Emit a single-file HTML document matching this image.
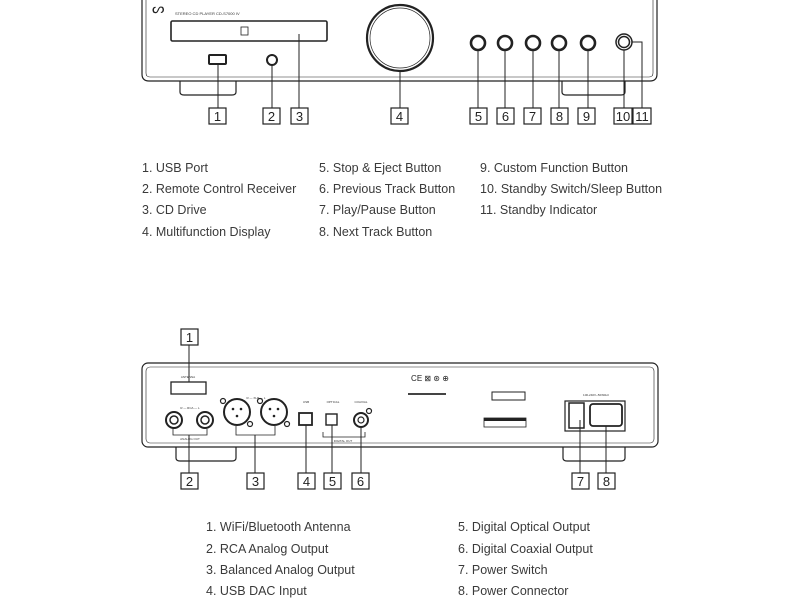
<!DOCTYPE html>
<html><head><meta charset="utf-8"><style>
html,body{margin:0;padding:0;background:#fff;}
svg{display:block;}
text{font-family:"Liberation Sans",sans-serif;}
.l{font-size:12.5px;fill:#3a3a3a;}
.n{font-size:13px;fill:#222;text-anchor:middle;}
.s{font-size:3px;fill:#333;text-anchor:middle;}
</style></head><body>
<svg width="800" height="600" viewBox="0 0 800 600" xmlns="http://www.w3.org/2000/svg">
<g fill="none" stroke="#222" stroke-width="1.2">
<!-- FRONT -->
<path d="M142,0 V74 Q142,81 149,81 H650 Q657,81 657,74 V0"/>
<path d="M146,0 V73 Q146,77 150,77 H649 Q653,77 653,73 V0" stroke-width="0.6"/>
<path d="M180,81 V92 Q180,95 184,95 H232 Q236,95 236,92 V81"/>
<path d="M562,81 V92 Q562,95 566,95 H621 Q625,95 625,92 V81"/>
<rect x="171" y="21" width="156" height="20" rx="1.5" stroke-width="1.6"/>
<rect x="241" y="27" width="7" height="8" stroke-width="0.8"/>
<circle cx="400" cy="38" r="33" stroke-width="2.2"/>
<circle cx="400" cy="38" r="30" stroke-width="0.7"/>
<rect x="209" y="55" width="17" height="9" rx="1" stroke-width="2"/>
<circle cx="272" cy="60" r="5" stroke-width="2"/>
<circle cx="478" cy="43" r="7" stroke-width="2.6"/>
<circle cx="505" cy="43" r="7" stroke-width="2.6"/>
<circle cx="533" cy="43" r="7" stroke-width="2.6"/>
<circle cx="559" cy="43" r="7" stroke-width="2.6"/>
<circle cx="588" cy="43" r="7" stroke-width="2.6"/>
<circle cx="624" cy="42" r="8" stroke-width="1.5"/>
<circle cx="624" cy="42" r="5.5" stroke-width="1.5"/>
<!-- front leaders -->
<path d="M218,64 V108 M272,65 V108 M299,34 V108 M400,71 V108 M478,50 V108 M505,50 V108 M533,50 V108 M559,50 V108 M588,50 V108 M624,50 V108 M632,42 H642 V108" stroke-width="1"/>
<!-- front boxes -->
<rect x="209" y="108" width="17" height="16"/><rect x="263" y="108" width="17" height="16"/><rect x="291" y="108" width="17" height="16"/><rect x="391" y="108" width="17" height="16"/>
<rect x="470" y="108" width="17" height="16"/><rect x="497" y="108" width="17" height="16"/><rect x="524" y="108" width="17" height="16"/><rect x="551" y="108" width="17" height="16"/><rect x="578" y="108" width="17" height="16"/>
<rect x="614" y="108" width="18" height="16"/><rect x="633" y="108" width="18" height="16"/>

<!-- REAR -->
<rect x="142" y="363" width="516" height="84" rx="6"/>
<rect x="146" y="367" width="508" height="76" rx="4" stroke-width="0.6"/>
<path d="M176,447 V458 Q176,461 180,461 H232 Q236,461 236,458 V447"/>
<path d="M563,447 V458 Q563,461 567,461 H621 Q625,461 625,458 V447"/>
<rect x="171" y="382" width="35" height="12" stroke-width="1.3"/>
<circle cx="174" cy="420" r="8" stroke-width="2"/><circle cx="174" cy="420" r="4" stroke-width="1.5"/>
<circle cx="205" cy="420" r="8" stroke-width="2"/><circle cx="205" cy="420" r="4" stroke-width="1.5"/>
<circle cx="237" cy="412" r="13" stroke-width="2"/><circle cx="274" cy="412" r="13" stroke-width="2"/>
<g fill="#222" stroke="none"><circle cx="233" cy="409" r="1.3"/><circle cx="241" cy="409" r="1.3"/><circle cx="237" cy="416" r="1.3"/><circle cx="270" cy="409" r="1.3"/><circle cx="278" cy="409" r="1.3"/><circle cx="274" cy="416" r="1.3"/></g>
<circle cx="223" cy="401" r="2.5"/><circle cx="250" cy="424" r="2.5"/><circle cx="260" cy="401" r="2.5"/><circle cx="287" cy="424" r="2.5"/>
<rect x="299" y="413" width="13" height="12" stroke-width="1.8"/>
<rect x="326" y="414" width="11" height="11" stroke-width="1.4"/>
<circle cx="361" cy="420" r="7" stroke-width="2"/><circle cx="361" cy="420" r="3"/><circle cx="369" cy="411" r="2.5"/>
<path d="M173,429 V435 H207 V429 M236,426 V435 H275 V426 M323,432 V437 H365 V432" stroke-width="0.8"/>
<rect x="565" y="401" width="60" height="30" stroke-width="1.2"/>
<rect x="569" y="403" width="15" height="25" stroke-width="1.5"/>
<rect x="590" y="404" width="32" height="22" rx="3" stroke-width="1.8"/>
<rect x="492" y="392" width="33" height="8" stroke-width="1"/>
<rect x="484" y="418" width="42" height="9" stroke-width="0.8"/>
<!-- rear leaders -->
<path d="M189,345 V382 M189,435 V473 M255,435 V473 M306,425 V473 M332,425 V473 M361,427 V473 M580,420 V473 M606,426 V473" stroke-width="1"/>
<rect x="181" y="329" width="17" height="16"/>
<rect x="181" y="473" width="17" height="16"/><rect x="247" y="473" width="17" height="16"/><rect x="298" y="473" width="17" height="16"/><rect x="324" y="473" width="17" height="16"/><rect x="352" y="473" width="17" height="16"/><rect x="572" y="473" width="17" height="16"/><rect x="598" y="473" width="17" height="16"/>
</g>
<rect x="484" y="418" width="42" height="3" fill="#222"/>
<rect x="408" y="393" width="38" height="2" fill="#444"/>
<text x="430" y="381" style="font-size:8px;fill:#222" text-anchor="middle">CE ⊠ ⊛ ⊕</text>
<text x="152" y="13" style="font-size:14px;fill:#222">ᔕ</text>
<text x="175" y="15" style="font-size:4px;fill:#333">STEREO CD PLAYER CD-S7000 IV</text>
<text x="188" y="378" class="s">ANTENNA</text>
<text x="256" y="399" class="s">R — XLR — L</text>
<text x="190" y="409" class="s">R — RCA — L</text>
<text x="190" y="440" class="s">ANALOG OUT</text>
<text x="306" y="403" class="s">USB</text>
<text x="333" y="403" class="s">OPTICAL</text>
<text x="361" y="403" class="s">COAXIAL</text>
<text x="343" y="442" class="s">DIGITAL OUT</text>
<text x="596" y="396" class="s">100-240V~50/60Hz</text>
<text class="n" x="217.5" y="121">1</text><text class="n" x="271.5" y="121">2</text><text class="n" x="299.5" y="121">3</text><text class="n" x="399.5" y="121">4</text>
<text class="n" x="478.5" y="121">5</text><text class="n" x="505.5" y="121">6</text><text class="n" x="532.5" y="121">7</text><text class="n" x="559.5" y="121">8</text><text class="n" x="586.5" y="121">9</text>
<text class="n" x="623" y="121">10</text><text class="n" x="642" y="121">11</text>
<text class="n" x="189.5" y="342">1</text>
<text class="n" x="189.5" y="486">2</text><text class="n" x="255.5" y="486">3</text><text class="n" x="306.5" y="486">4</text><text class="n" x="332.5" y="486">5</text><text class="n" x="360.5" y="486">6</text><text class="n" x="580.5" y="486">7</text><text class="n" x="606.5" y="486">8</text>
<text class="l" x="142" y="172">1. USB Port</text>
<text class="l" x="142" y="193">2. Remote Control Receiver</text>
<text class="l" x="142" y="214">3. CD Drive</text>
<text class="l" x="142" y="236">4. Multifunction Display</text>
<text class="l" x="319" y="172">5. Stop &amp; Eject Button</text>
<text class="l" x="319" y="193">6. Previous Track Button</text>
<text class="l" x="319" y="214">7. Play/Pause Button</text>
<text class="l" x="319" y="236">8. Next Track Button</text>
<text class="l" x="480" y="172">9. Custom Function Button</text>
<text class="l" x="480" y="193">10. Standby Switch/Sleep Button</text>
<text class="l" x="480" y="214">11. Standby Indicator</text>
<text class="l" x="206" y="531">1. WiFi/Bluetooth Antenna</text>
<text class="l" x="206" y="553">2. RCA Analog Output</text>
<text class="l" x="206" y="574">3. Balanced Analog Output</text>
<text class="l" x="206" y="595">4. USB DAC Input</text>
<text class="l" x="458" y="531">5. Digital Optical Output</text>
<text class="l" x="458" y="553">6. Digital Coaxial Output</text>
<text class="l" x="458" y="574">7. Power Switch</text>
<text class="l" x="458" y="595">8. Power Connector</text>
</svg>
</body></html>
